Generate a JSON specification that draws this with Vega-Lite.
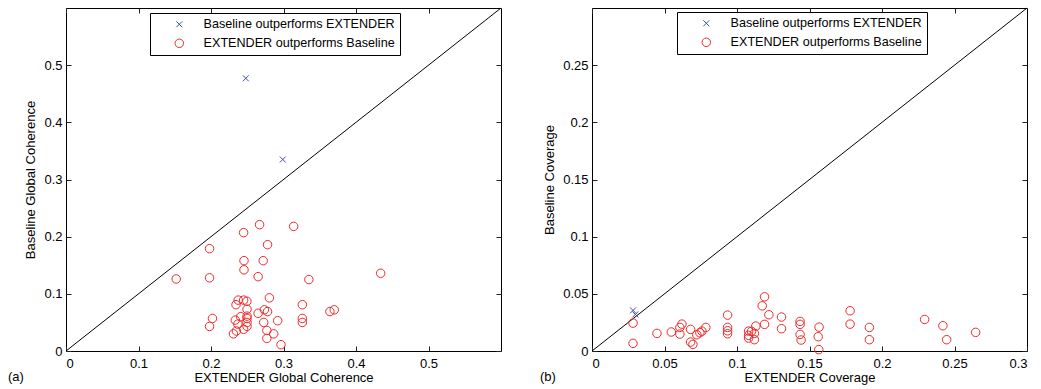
{
  "$schema": "https://vega.github.io/schema/vega-lite/v6.json",
  "background": "white",
  "padding": {"left": 7, "top": 5, "right": 5, "bottom": 2},
  "spacing": 35,
  "config": {
    "font": "Liberation Sans",
    "view": {"stroke": "black", "strokeWidth": 1},
    "axis": {
      "domain": false, "grid": false, "ticks": true,
      "tickColor": "#222", "tickSize": -5, "tickWidth": 1,
      "labelColor": "black", "titleColor": "black",
      "labelFontSize": 13, "titleFontSize": 13, "titleFontWeight": "normal",
      "labelFont": "Liberation Sans", "titleFont": "Liberation Sans",
      "labelPadding": 6, "titlePadding": 4, "format": "~g"
    },
    "axisLeft": {"labelPadding": 9, "titlePadding": 6},
    "axisBottom": {"labelPadding": 11, "titlePadding": 1},
    "legend": {
      "orient": "none", "title": null,
      "strokeColor": "black", "fillColor": "white", "padding": 5,
      "rowPadding": 6, "symbolOffset": 18, "labelOffset": 18,
      "labelFontSize": 12.6, "labelColor": "black", "labelFont": "Liberation Sans",
      "labelLimit": 400, "symbolSize": 72, "symbolStrokeWidth": 1, "cornerRadius": 0
    },
    "title": {"fontSize": 13, "fontWeight": "normal", "color": "black", "font": "Liberation Sans"}
  },
  "datasets": {
    "diagA": [{"x": 0, "y": 0}, {"x": 0.6, "y": 0.6}],
    "diagB": [{"x": 0, "y": 0}, {"x": 0.3, "y": 0.3}],
    "coh": [
      {"x": 0.248, "y": 0.477, "group": "Baseline outperforms EXTENDER"},
      {"x": 0.299, "y": 0.335, "group": "Baseline outperforms EXTENDER"},
      {"x": 0.267, "y": 0.221, "group": "EXTENDER outperforms Baseline"},
      {"x": 0.314, "y": 0.218, "group": "EXTENDER outperforms Baseline"},
      {"x": 0.245, "y": 0.207, "group": "EXTENDER outperforms Baseline"},
      {"x": 0.198, "y": 0.179, "group": "EXTENDER outperforms Baseline"},
      {"x": 0.278, "y": 0.186, "group": "EXTENDER outperforms Baseline"},
      {"x": 0.2455, "y": 0.158, "group": "EXTENDER outperforms Baseline"},
      {"x": 0.272, "y": 0.158, "group": "EXTENDER outperforms Baseline"},
      {"x": 0.2455, "y": 0.142, "group": "EXTENDER outperforms Baseline"},
      {"x": 0.152, "y": 0.126, "group": "EXTENDER outperforms Baseline"},
      {"x": 0.198, "y": 0.128, "group": "EXTENDER outperforms Baseline"},
      {"x": 0.265, "y": 0.130, "group": "EXTENDER outperforms Baseline"},
      {"x": 0.335, "y": 0.125, "group": "EXTENDER outperforms Baseline"},
      {"x": 0.434, "y": 0.136, "group": "EXTENDER outperforms Baseline"},
      {"x": 0.2805, "y": 0.093, "group": "EXTENDER outperforms Baseline"},
      {"x": 0.2375, "y": 0.089, "group": "EXTENDER outperforms Baseline"},
      {"x": 0.245, "y": 0.089, "group": "EXTENDER outperforms Baseline"},
      {"x": 0.2495, "y": 0.087, "group": "EXTENDER outperforms Baseline"},
      {"x": 0.2345, "y": 0.081, "group": "EXTENDER outperforms Baseline"},
      {"x": 0.326, "y": 0.081, "group": "EXTENDER outperforms Baseline"},
      {"x": 0.2497, "y": 0.073, "group": "EXTENDER outperforms Baseline"},
      {"x": 0.2736, "y": 0.072, "group": "EXTENDER outperforms Baseline"},
      {"x": 0.278, "y": 0.069, "group": "EXTENDER outperforms Baseline"},
      {"x": 0.265, "y": 0.066, "group": "EXTENDER outperforms Baseline"},
      {"x": 0.364, "y": 0.069, "group": "EXTENDER outperforms Baseline"},
      {"x": 0.370, "y": 0.072, "group": "EXTENDER outperforms Baseline"},
      {"x": 0.202, "y": 0.057, "group": "EXTENDER outperforms Baseline"},
      {"x": 0.241, "y": 0.060, "group": "EXTENDER outperforms Baseline"},
      {"x": 0.2497, "y": 0.061, "group": "EXTENDER outperforms Baseline"},
      {"x": 0.2497, "y": 0.057, "group": "EXTENDER outperforms Baseline"},
      {"x": 0.2335, "y": 0.054, "group": "EXTENDER outperforms Baseline"},
      {"x": 0.292, "y": 0.053, "group": "EXTENDER outperforms Baseline"},
      {"x": 0.326, "y": 0.057, "group": "EXTENDER outperforms Baseline"},
      {"x": 0.326, "y": 0.050, "group": "EXTENDER outperforms Baseline"},
      {"x": 0.2727, "y": 0.050, "group": "EXTENDER outperforms Baseline"},
      {"x": 0.2497, "y": 0.050, "group": "EXTENDER outperforms Baseline"},
      {"x": 0.198, "y": 0.043, "group": "EXTENDER outperforms Baseline"},
      {"x": 0.237, "y": 0.047, "group": "EXTENDER outperforms Baseline"},
      {"x": 0.2497, "y": 0.043, "group": "EXTENDER outperforms Baseline"},
      {"x": 0.245, "y": 0.038, "group": "EXTENDER outperforms Baseline"},
      {"x": 0.235, "y": 0.035, "group": "EXTENDER outperforms Baseline"},
      {"x": 0.231, "y": 0.030, "group": "EXTENDER outperforms Baseline"},
      {"x": 0.277, "y": 0.036, "group": "EXTENDER outperforms Baseline"},
      {"x": 0.2865, "y": 0.030, "group": "EXTENDER outperforms Baseline"},
      {"x": 0.277, "y": 0.022, "group": "EXTENDER outperforms Baseline"},
      {"x": 0.2966, "y": 0.011, "group": "EXTENDER outperforms Baseline"}
    ],
    "cov": [
      {"x": 0.0283, "y": 0.0355, "group": "Baseline outperforms EXTENDER"},
      {"x": 0.0299, "y": 0.032, "group": "Baseline outperforms EXTENDER"},
      {"x": 0.0283, "y": 0.0244, "group": "EXTENDER outperforms Baseline"},
      {"x": 0.0283, "y": 0.0067, "group": "EXTENDER outperforms Baseline"},
      {"x": 0.0448, "y": 0.0154, "group": "EXTENDER outperforms Baseline"},
      {"x": 0.0547, "y": 0.0166, "group": "EXTENDER outperforms Baseline"},
      {"x": 0.0606, "y": 0.0148, "group": "EXTENDER outperforms Baseline"},
      {"x": 0.0606, "y": 0.0206, "group": "EXTENDER outperforms Baseline"},
      {"x": 0.062, "y": 0.0235, "group": "EXTENDER outperforms Baseline"},
      {"x": 0.068, "y": 0.0189, "group": "EXTENDER outperforms Baseline"},
      {"x": 0.068, "y": 0.0078, "group": "EXTENDER outperforms Baseline"},
      {"x": 0.0696, "y": 0.0058, "group": "EXTENDER outperforms Baseline"},
      {"x": 0.0723, "y": 0.0142, "group": "EXTENDER outperforms Baseline"},
      {"x": 0.0744, "y": 0.016, "group": "EXTENDER outperforms Baseline"},
      {"x": 0.0758, "y": 0.0174, "group": "EXTENDER outperforms Baseline"},
      {"x": 0.0785, "y": 0.0206, "group": "EXTENDER outperforms Baseline"},
      {"x": 0.0935, "y": 0.0314, "group": "EXTENDER outperforms Baseline"},
      {"x": 0.0935, "y": 0.0206, "group": "EXTENDER outperforms Baseline"},
      {"x": 0.0935, "y": 0.0177, "group": "EXTENDER outperforms Baseline"},
      {"x": 0.0935, "y": 0.0151, "group": "EXTENDER outperforms Baseline"},
      {"x": 0.108, "y": 0.0174, "group": "EXTENDER outperforms Baseline"},
      {"x": 0.108, "y": 0.0137, "group": "EXTENDER outperforms Baseline"},
      {"x": 0.108, "y": 0.0113, "group": "EXTENDER outperforms Baseline"},
      {"x": 0.110, "y": 0.0172, "group": "EXTENDER outperforms Baseline"},
      {"x": 0.112, "y": 0.0154, "group": "EXTENDER outperforms Baseline"},
      {"x": 0.112, "y": 0.0099, "group": "EXTENDER outperforms Baseline"},
      {"x": 0.113, "y": 0.0218, "group": "EXTENDER outperforms Baseline"},
      {"x": 0.119, "y": 0.0474, "group": "EXTENDER outperforms Baseline"},
      {"x": 0.1174, "y": 0.0395, "group": "EXTENDER outperforms Baseline"},
      {"x": 0.122, "y": 0.0317, "group": "EXTENDER outperforms Baseline"},
      {"x": 0.119, "y": 0.0233, "group": "EXTENDER outperforms Baseline"},
      {"x": 0.1307, "y": 0.0297, "group": "EXTENDER outperforms Baseline"},
      {"x": 0.1307, "y": 0.0195, "group": "EXTENDER outperforms Baseline"},
      {"x": 0.1435, "y": 0.0259, "group": "EXTENDER outperforms Baseline"},
      {"x": 0.1435, "y": 0.0233, "group": "EXTENDER outperforms Baseline"},
      {"x": 0.1435, "y": 0.0145, "group": "EXTENDER outperforms Baseline"},
      {"x": 0.1442, "y": 0.0096, "group": "EXTENDER outperforms Baseline"},
      {"x": 0.1566, "y": 0.0209, "group": "EXTENDER outperforms Baseline"},
      {"x": 0.156, "y": 0.0125, "group": "EXTENDER outperforms Baseline"},
      {"x": 0.1564, "y": 0.0012, "group": "EXTENDER outperforms Baseline"},
      {"x": 0.178, "y": 0.0352, "group": "EXTENDER outperforms Baseline"},
      {"x": 0.178, "y": 0.0235, "group": "EXTENDER outperforms Baseline"},
      {"x": 0.1913, "y": 0.0206, "group": "EXTENDER outperforms Baseline"},
      {"x": 0.1913, "y": 0.0099, "group": "EXTENDER outperforms Baseline"},
      {"x": 0.2294, "y": 0.0276, "group": "EXTENDER outperforms Baseline"},
      {"x": 0.242, "y": 0.0221, "group": "EXTENDER outperforms Baseline"},
      {"x": 0.2446, "y": 0.0099, "group": "EXTENDER outperforms Baseline"},
      {"x": 0.2646, "y": 0.0163, "group": "EXTENDER outperforms Baseline"}
    ]
  },
  "resolve": {
    "scale": {"color": "independent", "shape": "independent"},
    "legend": {"color": "independent", "shape": "independent"}
  },
  "hconcat": [
    {
      "width": 435, "height": 343,
      "title": {"text": "(a)", "orient": "bottom", "anchor": "start", "frame": "group", "dx": -58, "dy": -17},
      "resolve": {"axis": {"x": "independent", "y": "independent"}},
      "layer": [
        {
          "data": {"name": "diagA"},
          "mark": {"type": "line", "color": "black", "strokeWidth": 1},
          "encoding": {
            "x": {"field": "x", "type": "quantitative", "scale": {"domain": [0, 0.6], "nice": false, "zero": false},
                  "axis": {"orient": "bottom", "values": [0, 0.1, 0.2, 0.3, 0.4, 0.5], "title": "EXTENDER Global Coherence"}},
            "y": {"field": "y", "type": "quantitative", "scale": {"domain": [0, 0.6], "nice": false, "zero": false},
                  "axis": {"orient": "left", "values": [0, 0.1, 0.2, 0.3, 0.4, 0.5], "title": "Baseline Global Coherence"}}
          }
        },
        {
          "data": {"name": "coh"},
          "mark": {"type": "point", "filled": false, "strokeWidth": 1, "size": 72, "opacity": 1},
          "encoding": {
            "x": {"field": "x", "type": "quantitative",
                  "axis": {"orient": "top", "values": [0, 0.1, 0.2, 0.3, 0.4, 0.5], "labels": false, "title": null}},
            "y": {"field": "y", "type": "quantitative",
                  "axis": {"orient": "right", "values": [0, 0.1, 0.2, 0.3, 0.4, 0.5], "labels": false, "title": null}},
            "color": {"field": "group", "type": "nominal",
                      "scale": {"domain": ["Baseline outperforms EXTENDER", "EXTENDER outperforms Baseline"], "range": ["#3a4fb0", "#ee2a2a"]},
                      "legend": {"legendX": 84, "legendY": 5}},
            "shape": {"field": "group", "type": "nominal",
                      "scale": {"domain": ["Baseline outperforms EXTENDER", "EXTENDER outperforms Baseline"], "range": ["M-0.7,-0.7L0.7,0.7M-0.7,0.7L0.7,-0.7", "circle"]},
                      "legend": {"legendX": 84, "legendY": 5}}
          }
        }
      ]
    },
    {
      "width": 435, "height": 343,
      "title": {"text": "(b)", "orient": "bottom", "anchor": "start", "frame": "group", "dx": -52, "dy": -17},
      "resolve": {"axis": {"x": "independent", "y": "independent"}},
      "layer": [
        {
          "data": {"name": "diagB"},
          "mark": {"type": "line", "color": "black", "strokeWidth": 1},
          "encoding": {
            "x": {"field": "x", "type": "quantitative", "scale": {"domain": [0, 0.3], "nice": false, "zero": false},
                  "axis": {"orient": "bottom", "values": [0, 0.05, 0.1, 0.15, 0.2, 0.25, 0.3], "title": "EXTENDER Coverage"}},
            "y": {"field": "y", "type": "quantitative", "scale": {"domain": [0, 0.3], "nice": false, "zero": false},
                  "axis": {"orient": "left", "values": [0, 0.05, 0.1, 0.15, 0.2, 0.25], "title": "Baseline Coverage"}}
          }
        },
        {
          "data": {"name": "cov"},
          "mark": {"type": "point", "filled": false, "strokeWidth": 1, "size": 72, "opacity": 1},
          "encoding": {
            "x": {"field": "x", "type": "quantitative",
                  "axis": {"orient": "top", "values": [0, 0.05, 0.1, 0.15, 0.2, 0.25], "labels": false, "title": null}},
            "y": {"field": "y", "type": "quantitative",
                  "axis": {"orient": "right", "values": [0, 0.05, 0.1, 0.15, 0.2, 0.25], "labels": false, "title": null}},
            "color": {"field": "group", "type": "nominal",
                      "scale": {"domain": ["Baseline outperforms EXTENDER", "EXTENDER outperforms Baseline"], "range": ["#3a4fb0", "#ee2a2a"]},
                      "legend": {"legendX": 85, "legendY": 4}},
            "shape": {"field": "group", "type": "nominal",
                      "scale": {"domain": ["Baseline outperforms EXTENDER", "EXTENDER outperforms Baseline"], "range": ["M-0.7,-0.7L0.7,0.7M-0.7,0.7L0.7,-0.7", "circle"]},
                      "legend": {"legendX": 85, "legendY": 4}}
          }
        }
      ]
    }
  ]
}
